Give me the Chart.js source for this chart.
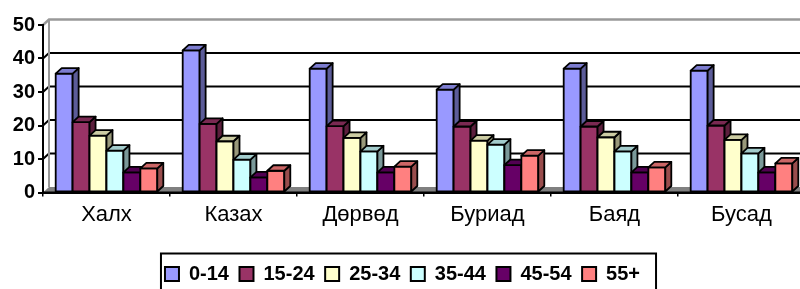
<!DOCTYPE html>
<html>
<head>
<meta charset="utf-8">
<script src="https://cdn.jsdelivr.net/npm/chart.js@4/dist/chart.umd.min.js"></script>
<style>
  html, body { margin: 0; padding: 0; background: #fff; overflow: hidden; }
  #wrap { width: 800px; height: 289px; overflow: hidden; }
</style>
</head>
<body>
<div id="wrap"><canvas id="myChart" width="810" height="300"></canvas></div>
<script>
// Datos del gráfico
const categorias = ['Халх', 'Казах', 'Дөрвөд', 'Буриад', 'Баяд', 'Бусад'];
const grupos = ['0-14', '15-24', '25-34', '35-44', '45-54', '55+'];
const edad0_14 = [35.5, 42.4, 37.0, 30.7, 37.0, 36.4];
const edad15_24 = [21.0, 20.5, 19.8, 19.7, 19.7, 20.0];
const edad25_34 = [17.0, 15.3, 16.3, 15.5, 16.5, 15.7];
const edad35_44 = [12.5, 9.8, 12.3, 14.3, 12.3, 11.7];
const edad45_54 = [6.0, 4.5, 6.0, 8.2, 6.0, 6.0];
const edad55 = [7.2, 6.5, 7.7, 11.0, 7.5, 8.7];
const ticksY = [0, 10, 20, 30, 40, 50];

// colores: frente, lado, arriba
const colores = ['#9999FF', '#993366', '#FFFFCC', '#CCFFFF', '#660066', '#FF8080'];
const coloresLado = ['#5c5c99', '#5c1f3d', '#99997a', '#7a9999', '#3d003d', '#994d4d'];
const coloresArriba = ['#7d7dd0', '#7a2952', '#cccca3', '#a3cccc', '#520052', '#cc6666'];

const DX = 6, DY = 5.5; // profundidad 3D

const series = [edad0_14, edad15_24, edad25_34, edad35_44, edad45_54, edad55];

// Plugin: pared del fondo, piso y barras 3D
const pared3D = {
    id: 'pared3D',
    beforeDraw(chart) {
        const { ctx, chartArea: a, scales: { y } } = chart;
        ctx.save();
        // piso
        ctx.fillStyle = '#808080';
        ctx.beginPath();
        ctx.moveTo(a.left, a.bottom);
        ctx.lineTo(a.right, a.bottom);
        ctx.lineTo(a.right + DX, a.bottom - DY);
        ctx.lineTo(a.left + DX, a.bottom - DY);
        ctx.closePath();
        ctx.fill();
        // lineas de la pared
        ticksY.forEach(v => {
            if (v === 0) return;
            const yf = y.getPixelForValue(v);
            const yb = yf - DY;
            ctx.strokeStyle = v === 50 ? '#999999' : '#000';
            ctx.lineWidth = v === 50 ? 2.5 : 2;
            ctx.beginPath();
            ctx.moveTo(a.left, yf);
            ctx.lineTo(a.left + DX, yb);
            ctx.lineTo(a.right + DX + 10, yb);
            ctx.stroke();
        });
        // borde izquierdo de la pared
        ctx.strokeStyle = '#999999';
        ctx.lineWidth = 2;
        ctx.beginPath();
        ctx.moveTo(a.left + DX, y.getPixelForValue(50) - DY);
        ctx.lineTo(a.left + DX, y.getPixelForValue(0) - DY);
        ctx.stroke();
        ctx.restore();
    },
    beforeDatasetsDraw(chart) {
        const ctx = chart.ctx;
        ctx.save();
        ctx.lineWidth = 1.8;
        ctx.lineJoin = 'round';
        ctx.strokeStyle = '#000';
        for (let i = 0; i < categorias.length; i++) {
            for (let j = 0; j < series.length; j++) {
                const el = chart.getDatasetMeta(j).data[i];
                const x0 = el.x - el.width / 2;
                const x1 = el.x + el.width / 2;
                const top = el.y, base = el.base;
                // frente
                ctx.fillStyle = colores[j];
                ctx.fillRect(x0, top, x1 - x0, base - top);
                ctx.strokeRect(x0, top, x1 - x0, base - top);
                // lado
                ctx.fillStyle = coloresLado[j];
                ctx.beginPath();
                ctx.moveTo(x1, top);
                ctx.lineTo(x1 + DX, top - DY);
                ctx.lineTo(x1 + DX, base - DY);
                ctx.lineTo(x1, base);
                ctx.closePath();
                ctx.fill();
                ctx.stroke();
                // arriba
                ctx.fillStyle = coloresArriba[j];
                ctx.beginPath();
                ctx.moveTo(x0, top);
                ctx.lineTo(x0 + DX, top - DY);
                ctx.lineTo(x1 + DX, top - DY);
                ctx.lineTo(x1, top);
                ctx.closePath();
                ctx.fill();
                ctx.stroke();
            }
        }
        // linea base del frente
        const a = chart.chartArea;
        ctx.lineWidth = 2;
        ctx.beginPath();
        ctx.moveTo(a.left, a.bottom);
        ctx.lineTo(a.right, a.bottom);
        ctx.stroke();
        ctx.restore();
        return false;
    },
    afterDraw(chart) {
        // marco de la leyenda
        const lg = chart.legend;
        if (!lg || !lg.legendHitBoxes.length) return;
        const cajas = lg.legendHitBoxes;
        const izq = Math.min(...cajas.map(c => c.left)) - 4;
        const der = Math.max(...cajas.map(c => c.left + c.width)) + 16;
        const ctx = chart.ctx;
        ctx.save();
        ctx.strokeStyle = '#000';
        ctx.lineWidth = 2;
        ctx.strokeRect(izq, lg.top, der - izq, 60);
        ctx.restore();
    }
};

function crearGrafico() {
    const ctx = document.getElementById('myChart').getContext('2d');
    new Chart(ctx, {
        type: 'bar',
        data: {
            labels: categorias,
            datasets: series.map((s, j) => ({
                label: grupos[j],
                data: s,
                backgroundColor: colores[j],
                borderColor: '#000',
                borderWidth: 2,
                categoryPercentage: 0.8,
                barPercentage: 1.0
            }))
        },
        options: {
            responsive: false,
            animation: false,
            layout: { padding: { top: 25, left: 0, right: 5, bottom: 6 } },
            plugins: {
                tooltip: { enabled: false },
                legend: {
                    position: 'bottom',
                    labels: {
                        color: '#000',
                        font: { family: 'Arial', size: 20, weight: 'bold' },
                        boxWidth: 14,
                        boxHeight: 14,
                        padding: 10.5
                    }
                }
            },
            scales: {
                y: {
                    min: 0,
                    max: 50,
                    ticks: {
                        stepSize: 10,
                        color: '#000',
                        padding: 3,
                        font: { family: 'Arial', size: 20, weight: 'bold' }
                    },
                    grid: { drawOnChartArea: false, drawTicks: true, tickLength: 5, color: '#000', lineWidth: 2 },
                    border: { display: true, color: '#000', width: 2 },
                    afterFit(scale) { scale.width = 43; }
                },
                x: {
                    ticks: {
                        color: '#000',
                        padding: 5,
                        font: { family: 'Arial', size: 22 }
                    },
                    grid: { offset: true, drawOnChartArea: false, drawTicks: true, tickLength: 4, color: '#000', lineWidth: 1.5 },
                    border: { display: true, color: '#000', width: 2 },
                    afterFit(scale) { scale.height = 61; }
                }
            }
        },
        plugins: [pared3D]
    });
}

crearGrafico();
</script>
</body>
</html>
